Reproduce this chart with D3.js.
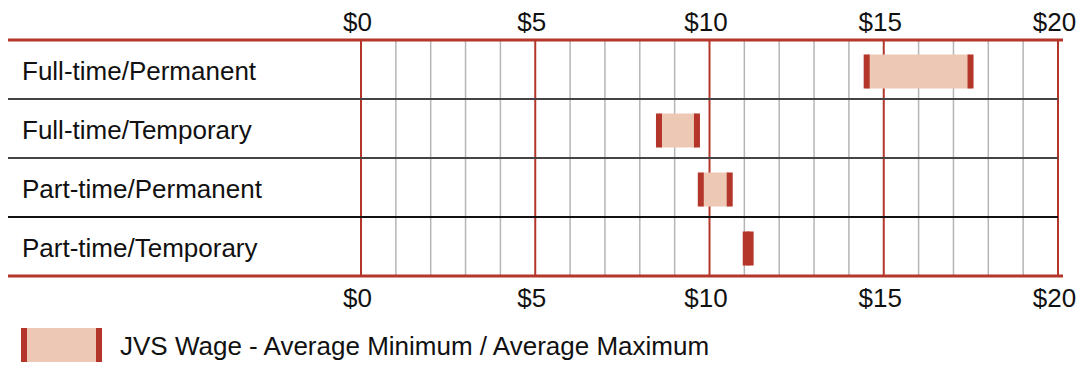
<!DOCTYPE html>
<html>
<head>
<meta charset="utf-8">
<script src="https://cdn.jsdelivr.net/npm/d3@7"></script>
<style>
  html, body { margin: 0; padding: 0; background: #fff; }
  svg { display: block; font-family: "Liberation Sans", Arial, sans-serif; }
</style>
</head>
<body>
<svg id="chart" width="1078" height="368"></svg>
<script>
// Hourly wage ranges by job type
const categories = ["Full-time/Permanent", "Full-time/Temporary", "Part-time/Permanent", "Part-time/Temporary"];
const minWage = [14.51, 8.55, 9.75, 11.04];
const maxWage = [17.49, 9.64, 10.58, 11.18];
const tickValues = [0, 5, 10, 15, 20];
const tickLabels = ["$0", "$5", "$10", "$15", "$20"];
const legendLabel = "JVS Wage - Average Minimum / Average Maximum";

const RED = "#b4362b";
const FILL = "#edc8b5";
const GRID = "#b5b5b5";

const svg = d3.select("#chart");
const x = d3.scaleLinear().domain([0, 20]).range([361, 1058]);
const y = d3.scaleBand().domain(categories).range([40, 276]).padding(0);

// vertical gridlines, one per dollar
const grid = svg.append("g");
grid.selectAll("line.minor")
  .data(d3.range(0, 21).filter(d => d % 5 !== 0))
  .join("line")
  .attr("x1", d => x(d)).attr("x2", d => x(d))
  .attr("y1", 40).attr("y2", 276)
  .attr("stroke", GRID).attr("stroke-width", 1.5);

// row separators
svg.append("g").selectAll("line")
  .data(categories.slice(1))
  .join("line")
  .attr("x1", 8).attr("x2", x(20))
  .attr("y1", d => y(d)).attr("y2", d => y(d))
  .attr("stroke", (d, i) => i === 2 ? "#111" : "#444")
  .attr("stroke-width", 2);

// major gridlines every $5
grid.selectAll("line.major")
  .data(tickValues)
  .join("line")
  .attr("x1", d => x(d)).attr("x2", d => x(d))
  .attr("y1", 40).attr("y2", 276)
  .attr("stroke", RED).attr("stroke-width", 2);

// frame top and bottom
[40, 276].forEach(yy => {
  svg.append("line")
    .attr("x1", 8).attr("x2", 1063)
    .attr("y1", yy).attr("y2", yy)
    .attr("stroke", RED).attr("stroke-width", 3);
});

// axes (labels only)
const fmt = (d, i) => tickLabels[tickValues.indexOf(d)];
const topAxis = svg.append("g").attr("transform", "translate(0,31)")
  .call(d3.axisTop(x).tickValues(tickValues).tickFormat(fmt).tickSize(0).tickPadding(0));
const bottomAxis = svg.append("g").attr("transform", "translate(0,288)")
  .call(d3.axisBottom(x).tickValues(tickValues).tickFormat(fmt).tickSize(0).tickPadding(0));
[topAxis, bottomAxis].forEach(ax => {
  ax.select(".domain").remove();
  ax.selectAll("text")
    .attr("font-size", 26)
    .attr("font-family", "Liberation Sans, Arial, sans-serif")
    .attr("fill", "#111")
    .attr("dx", -4);
});
topAxis.selectAll("text").attr("dy", 0);
bottomAxis.selectAll("text").attr("dy", 0).attr("y", 19);

// category labels
svg.append("g").selectAll("text")
  .data(categories)
  .join("text")
  .attr("x", 22)
  .attr("y", d => y(d) + y.bandwidth() / 2 + 10)
  .attr("font-size", 26)
  .attr("fill", "#111")
  .text(d => d);

// wage range bars
const capW = 6;
const barH = 34;
const bars = svg.append("g").selectAll("g")
  .data(categories.map((c, i) => ({ c, lo: minWage[i], hi: maxWage[i] })))
  .join("g")
  .attr("transform", d => `translate(0,${y(d.c) + y.bandwidth() / 2 - barH / 2 + 2})`);
bars.append("rect")
  .attr("x", d => x(d.lo)).attr("width", d => x(d.hi) - x(d.lo))
  .attr("height", barH).attr("fill", FILL);
bars.append("rect")
  .attr("x", d => x(d.lo) - capW / 2).attr("width", capW)
  .attr("height", barH).attr("fill", RED);
bars.append("rect")
  .attr("x", d => x(d.hi) - capW / 2).attr("width", capW)
  .attr("height", barH).attr("fill", RED);

// legend
const lg = svg.append("g").attr("transform", "translate(21,328)");
lg.append("rect").attr("x", 0).attr("width", 81).attr("height", 34).attr("fill", FILL);
lg.append("rect").attr("x", 0).attr("width", capW).attr("height", 34).attr("fill", RED);
lg.append("rect").attr("x", 81 - capW).attr("width", capW).attr("height", 34).attr("fill", RED);
lg.append("text").attr("x", 99).attr("y", 27)
  .attr("font-size", 26).attr("fill", "#111")
  .text(legendLabel);
</script>
</body>
</html>
